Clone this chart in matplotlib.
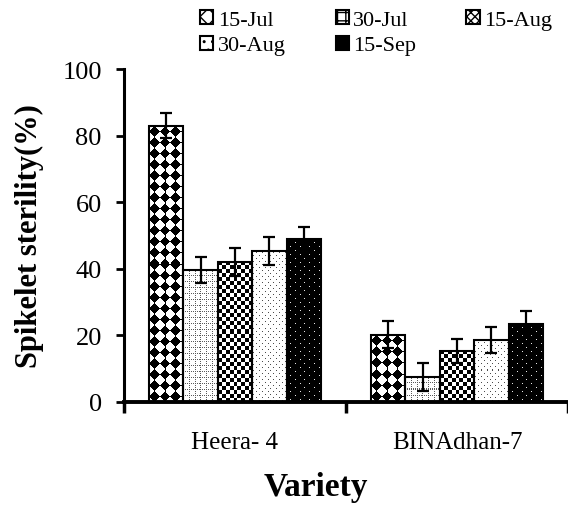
import numpy as np
import matplotlib
matplotlib.use('Agg')
import matplotlib.pyplot as plt
from matplotlib.patches import Patch

# data
varieties = ['Heera- 4', 'BINAdhan-7']
dates = ['15-Jul', '30-Jul', '15-Aug', '30-Aug', '15-Sep']
heera = [83.0, 39.6, 42.1, 45.4, 49.1]
heera_err = [3.8, 4.0, 4.2, 4.3, 3.6]
bina = [20.2, 7.6, 15.3, 18.7, 23.3]
bina_err = [4.0, 4.2, 3.6, 3.9, 3.9]


# fill patterns, on a pixel grid (X, Y measured from the bar's lower-left)
def diamonds(X, Y):
    a = 11
    dx = (X % a) - a / 2 + 0.5
    dy = (Y % a) - a / 2 + 0.5
    return np.where(np.abs(dx) + np.abs(dy) < 0.47 * a, 0.0, 1.0)

def dotted_grid(X, Y):
    on = ((X % 6 == 0) & (Y % 2 == 0)) | ((Y % 6 == 0) & (X % 2 == 0))
    return np.where(on, 0.35, 1.0)

def checker(X, Y):
    return ((X // 4 + Y // 4) % 2).astype(float)

def sparse_dots(X, Y):
    on = ((X % 6 == 1) & (Y % 6 == 1)) | ((X % 6 == 4) & (Y % 6 == 4))
    return np.where(on, 0.3, 1.0)

def dark_dots(X, Y):
    on = ((X % 10 == 3) & (Y % 8 == 2)) | ((X % 10 == 8) & (Y % 8 == 6))
    return np.where(on, 0.9, 0.0)

patterns = [diamonds, dotted_grid, checker, sparse_dots, dark_dots]
legend_styles = [('white', 'xx'), ('white', '++'), ('white', 'xxxx'),
                 ('white', '..'), ('black', '')]

plt.rcParams['font.family'] = 'Liberation Serif'

fig = plt.figure(figsize=(5.68, 5.06), dpi=100)
ax = fig.add_axes([0.2183, 0.2036, 0.7817, 0.658])
ax.set_xlim(-0.5, 1.405)
ax.set_ylim(0, 100)

width = 0.155
xpos = np.arange(len(varieties))

for i, d in enumerate(dates):
    vals = [heera[i], bina[i]]
    errs = [heera_err[i], bina_err[i]]
    x = xpos + (i - 2) * width
    bars = ax.bar(x, vals, width, facecolor='none', edgecolor='black',
                  linewidth=1.5, zorder=3)
    for rect in bars:
        bb = rect.get_window_extent()
        W = max(int(round(bb.width)), 1)
        H = max(int(round(bb.height)), 1)
        X, Y = np.meshgrid(np.arange(W), np.arange(H))
        img = patterns[i](X, Y)
        ax.imshow(img, cmap='gray', vmin=0, vmax=1, origin='lower',
                  extent=(rect.get_x(), rect.get_x() + rect.get_width(),
                          0, rect.get_height()),
                  aspect='auto', interpolation='nearest', zorder=2)
    ax.errorbar(x, vals, yerr=errs, fmt='none', ecolor='black',
                elinewidth=1.6, capsize=4.5, capthick=1.6, zorder=4)

ax.set_xlim(-0.5, 1.405)
ax.set_ylim(0, 100)

for s in ['top', 'right']:
    ax.spines[s].set_visible(False)
ax.spines['left'].set_linewidth(2.2)
ax.spines['bottom'].set_linewidth(2.8)

ax.set_yticks(range(0, 101, 20))
ax.tick_params(axis='y', direction='out', length=6, width=2, labelsize=19, pad=10)
ax.set_xticks(xpos)
ax.set_xticklabels(varieties)
ax.tick_params(axis='x', which='major', length=0, labelsize=18, pad=21)
ax.set_xticks([-0.5, 0.5, 1.5], minor=True)
ax.tick_params(axis='x', which='minor', direction='out', length=8, width=2.5)

fig.text(0.051, 0.534, 'Spikelet sterility(%)', rotation=90, fontsize=22,
         fontweight='bold', ha='center', va='center')
fig.text(0.556, 0.036, 'Variety', fontsize=24, fontweight='bold',
         ha='center', va='center')

handles = [Patch(facecolor=fc, edgecolor='black', hatch=h, linewidth=1.5)
           for fc, h in legend_styles]
order = [0, 3, 1, 4, 2]  # fill row by row
fig.legend([handles[k] for k in order], [dates[k] for k in order],
           loc='upper left', bbox_to_anchor=(0.352, 0.978), ncol=3,
           frameon=False, fontsize=16, handlelength=0.6, handleheight=0.6,
           handletextpad=0.2, columnspacing=2.25, labelspacing=0.25,
           borderpad=0, borderaxespad=0)

fig.savefig('out.png', dpi=100)
